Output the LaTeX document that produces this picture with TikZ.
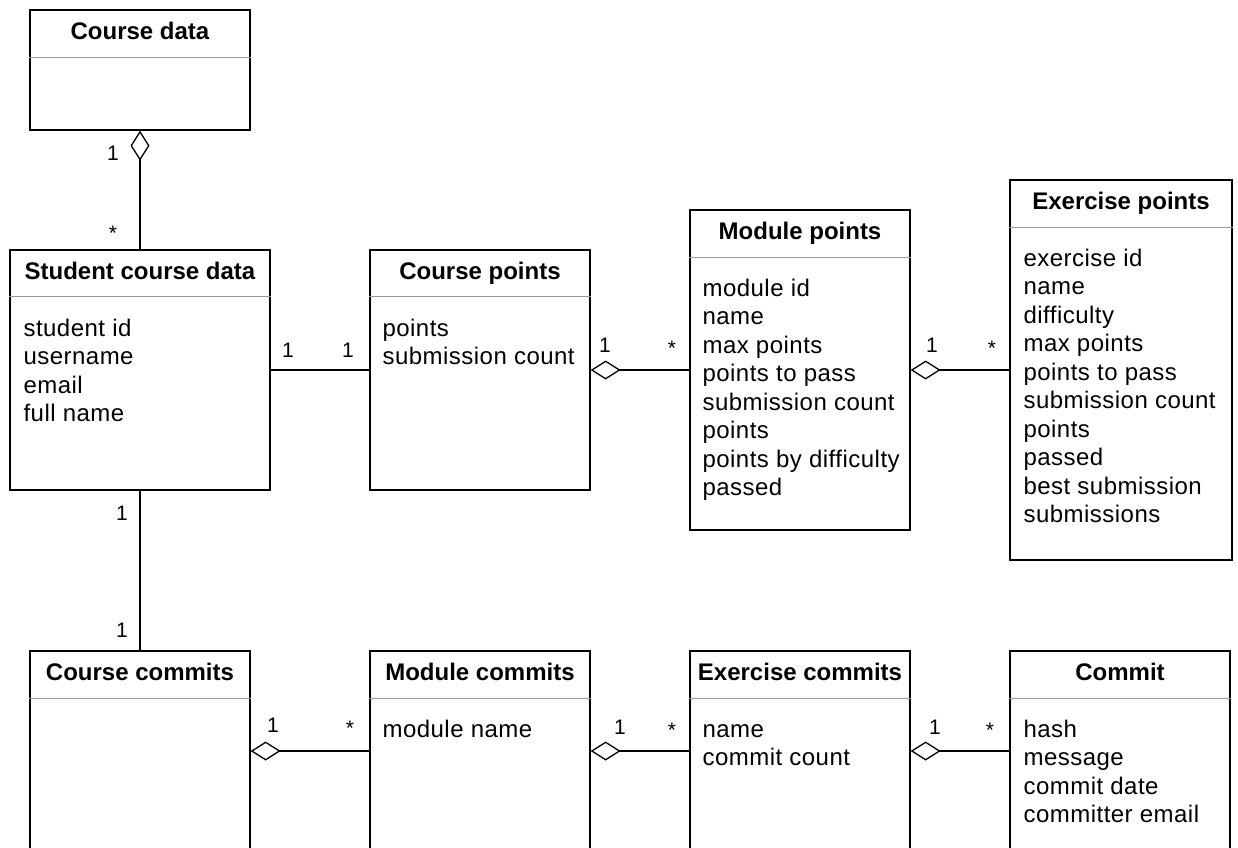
\documentclass[tikz,border=0pt]{standalone}
\usepackage{fontspec}
\setmainfont{Liberation Sans}
\newfontfamily\attrfont[LetterSpace=2]{Liberation Sans}
\usetikzlibrary{arrows.meta,positioning}

\tikzstyle{classbox}=[draw=black, line width=1.3pt, fill=white, inner sep=0pt, minimum width=220pt]
\tikzstyle{classtitle}=[font=\fontsize{24}{28}\selectfont\bfseries, inner sep=0pt, anchor=base]
\tikzstyle{attr}=[font=\attrfont\fontsize{24}{28.5}\selectfont, inner sep=0pt, anchor=base west]
\tikzstyle{sepline}=[black!40, line width=1.3pt]
\tikzstyle{assoc}=[line width=1.3pt]
\tikzstyle{aggr}=[assoc, {Diamond[open, length=30pt, width=19pt, line width=1.3pt]}-]
\tikzstyle{mult}=[font=\fontsize{21}{24}\selectfont, inner sep=0pt]

\begin{document}
\begin{tikzpicture}[x=1pt, y=-1pt]

	\useasboundingbox (0,0) rectangle (1238,847);
	\clip (0,0) rectangle (1238,847);

	% Obere Reihe
	\node(cd) at (140,70) [classbox, minimum height=120pt] {};
	\node(cdTitle) at ([yshift=-30pt]cd.north) [classtitle] {Course data};
	\draw[sepline] ([yshift=-48pt]cd.north west) -- ([yshift=-48pt]cd.north east);

	\node(scd) at (140,370) [classbox, minimum width=260pt, minimum height=240pt] {};
	\node(scdTitle) at ([yshift=-30pt]scd.north) [classtitle] {Student course data};
	\draw[sepline] ([yshift=-47pt]scd.north west) -- ([yshift=-47pt]scd.north east);
	\foreach \a [count=\i from 0] in {student id,username,email,full name}
		\node(scdAttr\i) at ([xshift=14pt, yshift=-87pt-\i*28.5pt]scd.north west) [attr] {\a};

	\node(cp) at (480,370) [classbox, minimum height=240pt] {};
	\node(cpTitle) at ([yshift=-30pt]cp.north) [classtitle] {Course points};
	\draw[sepline] ([yshift=-47pt]cp.north west) -- ([yshift=-47pt]cp.north east);
	\foreach \a [count=\i from 0] in {points,submission count}
		\node(cpAttr\i) at ([xshift=13pt, yshift=-87pt-\i*28.5pt]cp.north west) [attr] {\a};

	\node(mp) at (800,370) [classbox, minimum height=320pt] {};
	\node(mpTitle) at ([yshift=-30pt]mp.north) [classtitle] {Module points};
	\draw[sepline] ([yshift=-48pt]mp.north west) -- ([yshift=-48pt]mp.north east);
	\foreach \a [count=\i from 0] in {module id,name,max points,points to pass,submission count,points,points by difficulty,passed}
		\node(mpAttr\i) at ([xshift=13pt, yshift=-87pt-\i*28.5pt]mp.north west) [attr] {\a};

	\node(ep) at (1121,370) [classbox, minimum width=222pt, minimum height=380pt] {};
	\node(epTitle) at ([yshift=-30pt]ep.north) [classtitle] {Exercise points};
	\draw[sepline] ([yshift=-48pt]ep.north west) -- ([yshift=-48pt]ep.north east);
	\foreach \a [count=\i from 0] in {exercise id,name,difficulty,max points,points to pass,submission count,points,passed,best submission,submissions}
		\node(epAttr\i) at ([xshift=14pt, yshift=-87pt-\i*28.5pt]ep.north west) [attr] {\a};

	% Untere Reihe
	\node(cc) at (140,751) [classbox, minimum height=200pt] {};
	\node(ccTitle) at ([yshift=-30pt]cc.north) [classtitle] {Course commits};
	\draw[sepline] ([yshift=-48pt]cc.north west) -- ([yshift=-48pt]cc.north east);

	\node(mc) at (480,751) [classbox, minimum height=200pt] {};
	\node(mcTitle) at ([yshift=-30pt]mc.north) [classtitle] {Module commits};
	\draw[sepline] ([yshift=-48pt]mc.north west) -- ([yshift=-48pt]mc.north east);
	\node(mcAttr0) at ([xshift=13pt, yshift=-87pt]mc.north west) [attr] {module name};

	\node(ec) at (800,751) [classbox, minimum height=200pt] {};
	\node(ecTitle) at ([yshift=-30pt]ec.north) [classtitle] {Exercise commits};
	\draw[sepline] ([yshift=-48pt]ec.north west) -- ([yshift=-48pt]ec.north east);
	\foreach \a [count=\i from 0] in {name,commit count}
		\node(ecAttr\i) at ([xshift=13pt, yshift=-87pt-\i*28.5pt]ec.north west) [attr] {\a};

	\node(cm) at (1120,751) [classbox, minimum height=200pt] {};
	\node(cmTitle) at ([yshift=-30pt]cm.north) [classtitle] {Commit};
	\draw[sepline] ([yshift=-48pt]cm.north west) -- ([yshift=-48pt]cm.north east);
	\foreach \a [count=\i from 0] in {hash,message,commit date,committer email}
		\node(cmAttr\i) at ([xshift=14pt, yshift=-87pt-\i*28.5pt]cm.north west) [attr] {\a};

	% Verbindungen
	\draw[aggr] (cd) -- (scd);
	\draw[assoc] (scd) -- (cp);
	\draw[aggr] (cp) -- (mp);
	\draw[aggr] (mp) -- (ep);
	\draw[assoc] (scd) -- (cc);
	\draw[aggr] (cc) -- (mc);
	\draw[aggr] (mc) -- (ec);
	\draw[aggr] (ec) -- (cm);

	% Multiplizitaeten
	\node(m1) at (113,153) [mult] {1};
	\node(m2) at (113,233) [mult] {*};
	\node(m3) at (288,350) [mult] {1};
	\node(m4) at (348,350) [mult] {1};
	\node(m5) at (605,345) [mult] {1};
	\node(m6) at (672,348) [mult] {*};
	\node(m7) at (932,345) [mult] {1};
	\node(m8) at (992,348) [mult] {*};
	\node(m9) at (122,513) [mult] {1};
	\node(m10) at (122,630) [mult] {1};
	\node(m11) at (273,725) [mult] {1};
	\node(m12) at (350,728) [mult] {*};
	\node(m13) at (620,727) [mult] {1};
	\node(m14) at (672,730) [mult] {*};
	\node(m15) at (935,727) [mult] {1};
	\node(m16) at (990,730) [mult] {*};

\end{tikzpicture}
\end{document}
